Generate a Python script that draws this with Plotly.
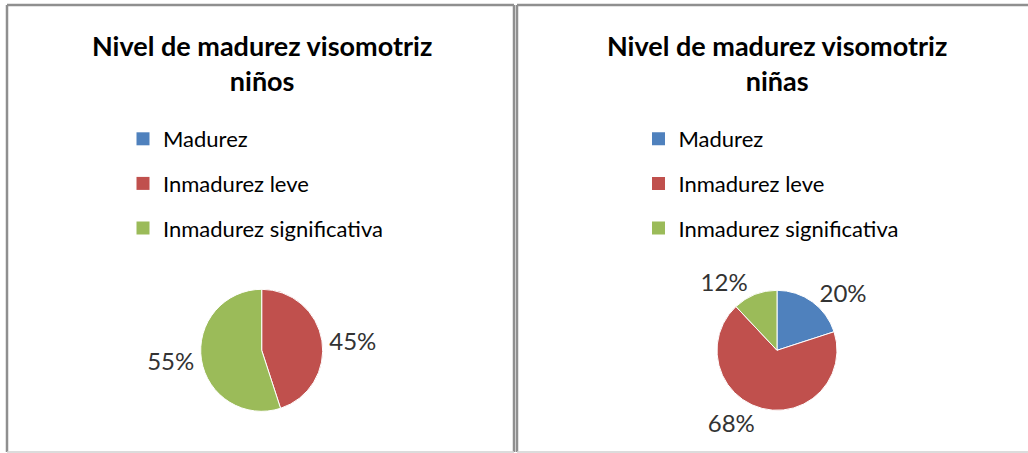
import plotly.graph_objects as go

categories = ["Madurez", "Inmadurez leve", "Inmadurez significativa"]
ninos_pct = [0, 45, 55]
ninas_pct = [20, 68, 12]
colors = ["#4F81BD", "#C0504D", "#9BBB59"]
titles = ["Nivel de madurez visomotriz<br>niños", "Nivel de madurez visomotriz<br>niñas"]

W, H = 1028, 453
FONT = "Lato"

fig = go.Figure()

def px(x):
    return x / W

def py(y):
    return 1 - y / H

# pies
pie_specs = [(ninos_pct, 261.7, 350.3, 61), (ninas_pct, 777.0, 350.3, 60)]
for vals, cx, cy, r in pie_specs:
    texts = [("%d%%" % v) if v > 0 else "" for v in vals]
    fig.add_trace(go.Pie(
        labels=categories, values=vals, text=texts,
        textinfo="text", textposition="outside",
        sort=False, direction="clockwise", rotation=0,
        marker=dict(colors=colors, line=dict(color="white", width=1)),
        textfont=dict(family=FONT, size=24, color="#333333"),
        domain=dict(x=[px(cx - r), px(cx + r)], y=[py(cy + r), py(cy - r)]),
        showlegend=False, hoverinfo="label+percent",
    ))

# legend entries (one per category, per panel)
for li, leg in enumerate(["legend", "legend2"]):
    for cat, col in zip(categories, colors):
        fig.add_trace(go.Scatter(
            x=[None], y=[None], mode="markers", name=cat,
            marker=dict(symbol="square", size=13, color=col),
            legend=leg, legendgroup=f"{leg}-{cat}", showlegend=True,
        ))

legend_common = dict(
    font=dict(family=FONT, size=22, color="#000000"),
    bgcolor="rgba(0,0,0,0)", borderwidth=0,
    tracegroupgap=13, itemsizing="trace",
    xanchor="left", yanchor="top",
)
fig.update_layout(
    legend=dict(x=px(123), y=py(118), **legend_common),
    legend2=dict(x=px(123 + 515.5), y=py(118), **legend_common),
)

# titles
for t, cx in zip(titles, [261.5, 777.0]):
    fig.add_annotation(
        text=t, x=px(cx), y=py(27), xref="paper", yref="paper",
        xanchor="center", yanchor="top", showarrow=False,
        font=dict(family=FONT, size=27, color="#000000", weight="bold"),
        align="center",
    )

# panel borders
dark = dict(color="#8f8f8f", width=2.5)
light = dict(color="#d0d0d0", width=1.5)
for x0, x1, right in [(7, 514, True), (517, 1060, False)]:
    fig.add_shape(type="line", xref="paper", yref="paper",
                  x0=px(x0), x1=px(x1), y0=py(5), y1=py(5), line=dark)
    fig.add_shape(type="line", xref="paper", yref="paper",
                  x0=px(x0), x1=px(x0), y0=py(5), y1=py(452), line=dark)
    if right:
        fig.add_shape(type="line", xref="paper", yref="paper",
                      x0=px(x1), x1=px(x1), y0=py(5), y1=py(452), line=dark)
    fig.add_shape(type="line", xref="paper", yref="paper",
                  x0=px(x0), x1=px(x1), y0=py(452), y1=py(452), line=light)

fig.update_layout(
    width=W, height=H,
    margin=dict(l=0, r=0, t=0, b=0),
    paper_bgcolor="white", plot_bgcolor="white",
    font=dict(family=FONT),
    xaxis=dict(visible=False), yaxis=dict(visible=False),
)

fig.write_html("out.html", config={"displayModeBar": False},
               post_script="document.body.style.margin='0';")
